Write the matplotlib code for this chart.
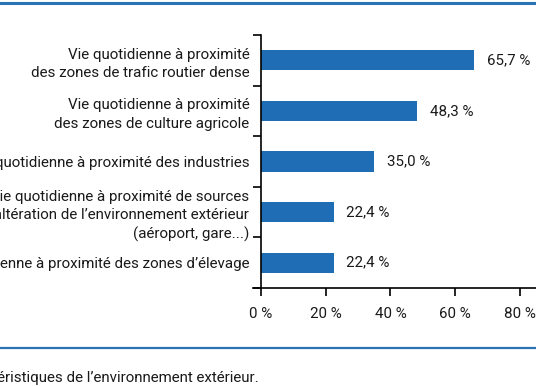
import matplotlib.pyplot as plt
import matplotlib
from matplotlib.lines import Line2D
from matplotlib.ticker import FixedLocator

matplotlib.rcParams['font.family'] = ['Roboto', 'DejaVu Sans']

labels = [
    'Vie quotidienne à proximité\ndes zones de trafic routier dense',
    'Vie quotidienne à proximité\ndes zones de culture agricole',
    'Vie quotidienne à proximité des industries',
    'Vie quotidienne à proximité de sources\nd’altération de l’environnement extérieur\n(aéroport, gare...)',
    'Vie quotidienne à proximité des zones d’élevage',
]
values = [65.7, 48.3, 35.0, 22.4, 22.4]
xticks = [0, 20, 40, 60, 80]
footer = 'Caractéristiques de l’environnement extérieur.'

blue = '#1f6db5'
line_blue = '#2a73b5'
txt = '#1a1a1a'
fs = 10.9

fig = plt.figure(figsize=(5.36, 3.86), dpi=100)
ax = fig.add_axes([253 / 536, 1 - 288 / 386, 1 - 253 / 536, (288 - 35) / 386])

ypos = list(range(len(values)))
ax.barh(ypos, values, height=0.4, color=blue)
for y, v in zip(ypos, values):
    ax.text(v + 4.0, y, f'{v:.1f} %'.replace('.', ','), va='center', ha='left',
            fontsize=fs, color=txt)

ax.set_xlim(-2.5, 85)
ax.set_ylim(len(values) - 0.5, -0.5)

for s in ['top', 'right']:
    ax.spines[s].set_visible(False)
ax.spines['left'].set_position(('data', 0))
ax.spines['left'].set_linewidth(1.2)
ax.spines['bottom'].set_linewidth(1.2)

ax.set_xticks(xticks)
ax.set_xticklabels([f'{t} %' for t in xticks], fontsize=fs, color=txt)
ax.tick_params(axis='x', length=6, width=1.2, pad=8)

ax.set_yticks(ypos)
ax.set_yticklabels(labels, fontsize=fs, color=txt, linespacing=1.4)
ax.tick_params(axis='y', which='major', length=0, pad=8.5)
ax.yaxis.set_minor_locator(FixedLocator([i - 0.5 for i in range(len(values) + 1)]))
ax.tick_params(axis='y', which='minor', length=6, width=1.2)

fig.add_artist(Line2D([0, 1], [1 - 3 / 386, 1 - 3 / 386], color=line_blue, lw=2.2))
fig.add_artist(Line2D([0, 1], [1 - 348 / 386, 1 - 348 / 386], color=line_blue, lw=1.6))

fig.text(-47 / 536, 1 - 378 / 386, footer, fontsize=fs, color=txt, va='center', ha='left')

plt.savefig('out.png', dpi=100, facecolor='white')
plt.close()
